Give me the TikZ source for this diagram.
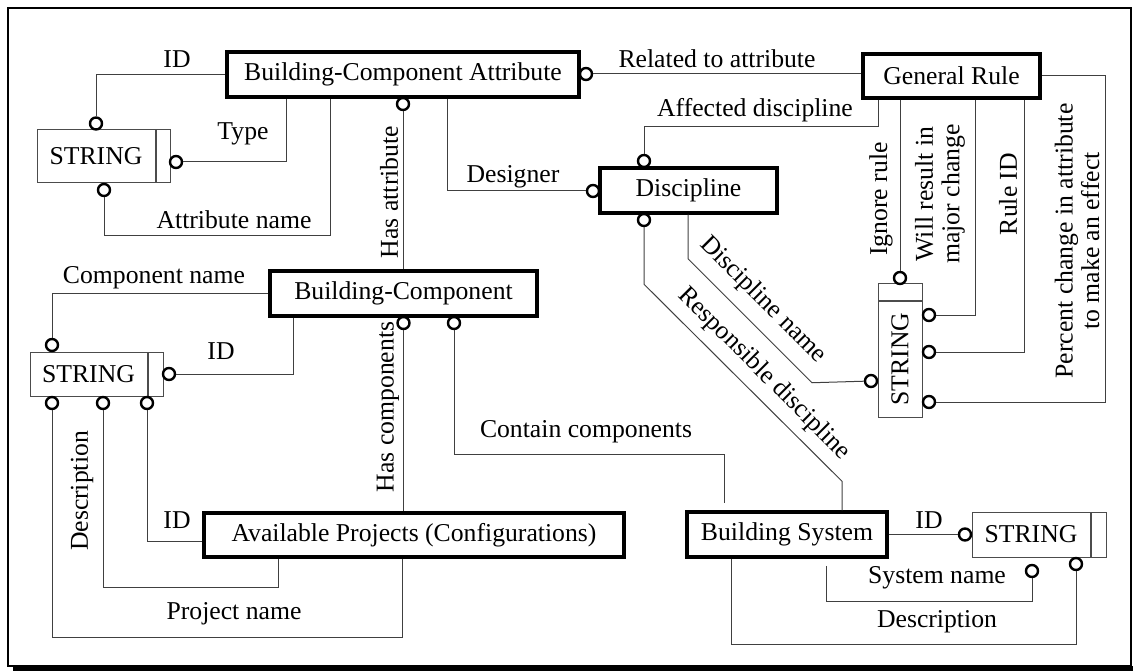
\documentclass[tikz,border=0pt]{standalone}
\usepackage{fontspec}
\setmainfont{Liberation Serif}
\usetikzlibrary{positioning}

\begin{document}
\begin{tikzpicture}[x=1pt,y=-1pt]

	\tikzstyle{entity}=[rectangle, draw, line width=3.5pt, inner sep=0pt, minimum height=44]
	\tikzstyle{strbox}=[rectangle, draw=black!70, line width=1pt, inner sep=0pt]
	\tikzstyle{strtail}=[rectangle, draw=black!70, line width=1pt, inner sep=0pt]
	\tikzstyle{ring}=[circle, draw, line width=2.4pt, fill=white, minimum size=12, inner sep=0pt]
	\tikzstyle{link}=[draw=black!75, line width=1pt]
	\tikzstyle{lab}=[inner sep=0pt, align=center]

	\useasboundingbox (0,0) rectangle (1133,671);
	\fontsize{25.7}{26.5}\selectfont

	% cadre
	\draw[line width=1.5pt] (8,8) rectangle (1131,666);
	\fill (13,666) rectangle (1133,671);

	% entites
	\node[entity, minimum width=352, minimum height=45] (bca) at (403,74.5) {Building-Component Attribute};
	\node[entity, minimum width=177] (gr) at (951.5,76) {General Rule};
	\node[entity, minimum width=177, minimum height=45] (dis) at (688.5,190.5) {Discipline};
	\node[entity, minimum width=267, minimum height=45] (bc) at (403.5,293.5) {Building-Component};
	\node[entity, minimum width=420] (ap) at (414,535) {Available Projects (Configurations)};
	\node[entity, minimum width=200, minimum height=45] (bs) at (787,534.5) {Building System};

	% types STRING
	\node[strbox, minimum width=118, minimum height=53] (s1) at (96,156.5) {STRING};
	\node[strtail, minimum width=14, minimum height=53, right=0pt of s1] (s1t) {};
	\node[strbox, minimum width=117, minimum height=44] (s2) at (88.5,374) {STRING};
	\node[strtail, minimum width=15, minimum height=44, right=0pt of s2] (s2t) {};
	\node[strbox, minimum width=116, minimum height=44, rotate=90] (s3) at (900,359) {STRING};
	\node[strtail, minimum width=44, minimum height=16, anchor=south] (s3t) at (s3.east) {};
	\node[strbox, minimum width=118, minimum height=45] (s4) at (1031,534.5) {STRING};
	\node[strtail, minimum width=15, minimum height=45, right=0pt of s4] (s4t) {};

	% cercles
	\node[ring] (r1) at (96,123.5) {};
	\node[ring] (r2) at (176,162) {};
	\node[ring] (r3) at (104,190) {};
	\node[ring] (r4) at (403,104) {};
	\node[ring] (r5) at (586,74) {};
	\node[ring] (r6) at (593,191) {};
	\node[ring] (r7) at (644,161) {};
	\node[ring] (r8) at (644,220) {};
	\node[ring] (r9) at (900,278) {};
	\node[ring] (r10) at (929,315) {};
	\node[ring] (r11) at (929,352) {};
	\node[ring] (r12) at (929,402) {};
	\node[ring] (r13) at (871,381) {};
	\node[ring] (r14) at (52,345) {};
	\node[ring] (r15) at (169,374) {};
	\node[ring] (r16) at (52,403) {};
	\node[ring] (r17) at (103,403) {};
	\node[ring] (r18) at (147,403) {};
	\node[ring] (r19) at (403.5,323) {};
	\node[ring] (r20) at (454,323) {};
	\node[ring] (r21) at (965,534.5) {};
	\node[ring] (r22) at (1032,571) {};
	\node[ring] (r23) at (1076,564) {};

	% liens
	\draw[link] (bca.west) -| (r1);
	\draw[link] (r2) -| ([xshift=-117]bca.south);
	\draw[link] ([xshift=-73]bca.south) -- ++(0,137) -| (r3);
	\draw[link] (r4) -- (r4 |- bc.north);
	\draw[link] (r5) -- (r5 -| gr.west);
	\draw[link] ([xshift=44]bca.south) |- (r6);
	\draw[link] ([xshift=-73.5]gr.south) -- ++(0,27) -| (r7);
	\draw[link] ([xshift=55]bs.north) -- ++(0,-29) -- ++(-198,-197) -- (r8);
	\draw[link] ([xshift=-0.5]dis.south) -- ++(0,44) -- ++(124,124) -- (r13);
	\draw[link] (r9 |- gr.south) -- (r9);
	\draw[link] ([xshift=23.5]gr.south) |- (r10);
	\draw[link] ([xshift=72.5]gr.south) |- (r11);
	\draw[link] (gr.east) -- ++(64,0) |- (r12);
	\draw[link] (bc.west) -| (r14);
	\draw[link] ([xshift=-110.5]bc.south) |- (r15);
	\draw[link] (r19) -- (r19 |- ap.north);
	\draw[link] (r20) -- ++(0,131) -| ([xshift=-63,yshift=7]bs.north);
	\draw[link] (r18) |- ([yshift=-6]ap.west);
	\draw[link] ([xshift=-136]ap.south) -- ++(0,29) -| (r17);
	\draw[link] ([xshift=-12]ap.south) -- ++(0,79) -| (r16);
	\draw[link] (bs.east) -- (r21);
	\draw[link] ([xshift=39,yshift=-7]bs.south) -- ++(0,36) -| (r22);
	\draw[link] ([xshift=-56]bs.south) -- ++(0,86) -| (r23);

	% etiquettes
	\node[lab] (l1) at (177,59) {ID};
	\node[lab] (l2) at (243,134) {Type};
	\node[lab] (l3) at (234,220) {Attribute name};
	\node[lab, rotate=90] (l4) at (389,192) {Has attribute};
	\node[lab] (l5) at (717,59) {Related to attribute};
	\node[lab] (l6) at (513,177) {Designer};
	\node[lab] (l7) at (755,110) {Affected discipline};
	\node[lab, rotate=90] (l8) at (881,199) {Ignore rule};
	\node[lab, rotate=90] (l9) at (940,194) {Will result in\\major change};
	\node[lab, rotate=90] (l10) at (1008,194) {Rule ID};
	\node[lab, rotate=90] (l11) at (1077,241) {Percent change in attribute\\to make an effect};
	\node[lab, rotate=-45] (l12) at (763,300) {Discipline name};
	\node[lab, rotate=-45] (l13) at (764,374) {Responsible discipline};
	\node[lab] (l14) at (154,278) {Component name};
	\node[lab] (l15) at (221,351) {ID};
	\node[lab, rotate=90] (l16) at (388,407) {Has components};
	\node[lab] (l17) at (586,432) {Contain components};
	\node[lab, rotate=90] (l18) at (82,491) {Description};
	\node[lab] (l19) at (177,520) {ID};
	\node[lab] (l20) at (234,614) {Project name};
	\node[lab] (l21) at (929,520) {ID};
	\node[lab] (l22) at (937,578) {System name};
	\node[lab] (l23) at (937,622) {Description};

\end{tikzpicture}
\end{document}
